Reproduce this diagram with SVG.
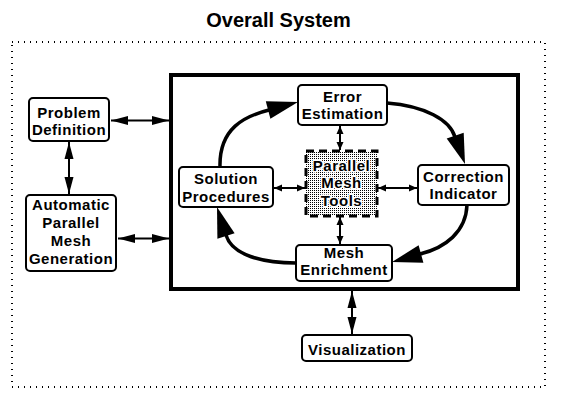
<svg xmlns="http://www.w3.org/2000/svg" width="561" height="406" viewBox="0 0 561 406">
<style>
.node rect{fill:#fff;stroke:#000;stroke-width:2}
text{font-family:"Liberation Sans",Arial,sans-serif;font-weight:bold;font-size:15px;letter-spacing:0.5px;text-anchor:middle;fill:#000}
.title{font-size:20px;letter-spacing:0}
.pmt text{stroke:#fff;stroke-width:3px;paint-order:stroke;stroke-linejoin:round}
.conn{fill:none;stroke:#000;stroke-width:2}
.cycle{fill:none;stroke:#000;stroke-width:3.5}
.head{fill:#000}
marker{overflow:visible}
</style>
<defs>
<pattern id="stipple" width="2" height="2" patternUnits="userSpaceOnUse">
<rect x="0" y="0" width="1" height="1" fill="#000"/>
</pattern>
<marker id="med" markerUnits="userSpaceOnUse" markerWidth="18" markerHeight="10" refX="17" refY="5" orient="auto-start-reverse">
<path d="M0,0.5 L17,5 L0,9.5 z" fill="#000"/>
</marker>
<marker id="sm" markerUnits="userSpaceOnUse" markerWidth="9" markerHeight="8" refX="8" refY="4" orient="auto-start-reverse">
<path d="M0,0.5 L8,4 L0,7.5 z" fill="#000"/>
</marker>
</defs>
<rect width="561" height="406" fill="#fff"/>
<text class="title" x="278.5" y="27">Overall System</text>
<rect id="outer" x="12" y="42" width="533" height="345" fill="none" stroke="#000" stroke-width="2" stroke-dasharray="1 5"/>
<rect id="core" x="171" y="75" width="347" height="214" fill="none" stroke="#000" stroke-width="4"/>

<g id="connectors">
<line class="conn" x1="111" y1="120.5" x2="169" y2="120.5" marker-start="url(#med)" marker-end="url(#med)"/>
<line class="conn" x1="118" y1="238.5" x2="169" y2="238.5" marker-start="url(#med)" marker-end="url(#med)"/>
<line class="conn" x1="69" y1="142" x2="69" y2="194" marker-start="url(#med)" marker-end="url(#med)"/>
<line class="conn" x1="352" y1="291" x2="352" y2="334" marker-start="url(#med)" marker-end="url(#med)"/>
<line class="conn" x1="340" y1="126" x2="340" y2="150" marker-start="url(#sm)" marker-end="url(#sm)"/>
<line class="conn" x1="340" y1="217" x2="340" y2="244" marker-start="url(#sm)" marker-end="url(#sm)"/>
<line class="conn" x1="274" y1="188" x2="305" y2="188" marker-start="url(#sm)" marker-end="url(#sm)"/>
<line class="conn" x1="378" y1="188" x2="417" y2="188" marker-start="url(#sm)" marker-end="url(#sm)"/>
<path class="cycle" d="M220,167 C219,128 245,116 269,110"/>
<polygon class="head" points="298,102 270.4,118.7 265.8,101.3"/>
<path class="cycle" d="M387,103 C425,106 450,120 455,137"/>
<polygon class="head" points="465,164 446.7,138.5 463.7,132.7"/>
<path class="cycle" d="M467,205 C466,232 445,248 420,254"/>
<polygon class="head" points="392,262 423.4,262.7 418.6,245.3"/>
<path class="cycle" d="M296,263 C262,263 232,255 226,235"/>
<polygon class="head" points="217,207 234.6,233.3 217.4,238.7"/>
</g>

<g id="problem-definition" class="node">
<rect x="29" y="98" width="80" height="43" rx="4"/>
<text x="69" y="118">Problem</text>
<text x="69" y="135">Definition</text>
</g>
<g id="automatic-parallel-mesh-generation" class="node">
<rect x="26" y="195" width="90" height="76" rx="4"/>
<text x="71" y="210">Automatic</text>
<text x="71" y="228">Parallel</text>
<text x="71" y="246">Mesh</text>
<text x="71" y="264">Generation</text>
</g>
<g id="error-estimation" class="node">
<rect x="298" y="85" width="89" height="40" rx="4"/>
<text x="342.5" y="102">Error</text>
<text x="342.5" y="119">Estimation</text>
</g>
<g id="correction-indicator" class="node">
<rect x="418" y="165" width="91" height="40" rx="4"/>
<text x="463.5" y="182">Correction</text>
<text x="463.5" y="199">Indicator</text>
</g>
<g id="solution-procedures" class="node">
<rect x="179" y="167" width="94" height="40" rx="4"/>
<text x="226" y="184">Solution</text>
<text x="226" y="202">Procedures</text>
</g>
<g id="mesh-enrichment" class="node">
<rect x="296" y="245" width="96" height="36" rx="4"/>
<text x="344" y="258">Mesh</text>
<text x="344" y="275">Enrichment</text>
</g>
<g id="parallel-mesh-tools" class="pmt">
<rect x="306" y="151" width="71" height="65" fill="url(#stipple)" stroke="#000" stroke-width="3" stroke-dasharray="8 5"/>
<text x="341.5" y="171">Parallel</text>
<text x="341.5" y="188">Mesh</text>
<text x="341.5" y="206">Tools</text>
</g>
<g id="visualization" class="node">
<rect x="302" y="335" width="110" height="26" rx="4"/>
<text x="357" y="355">Visualization</text>
</g>
</svg>
